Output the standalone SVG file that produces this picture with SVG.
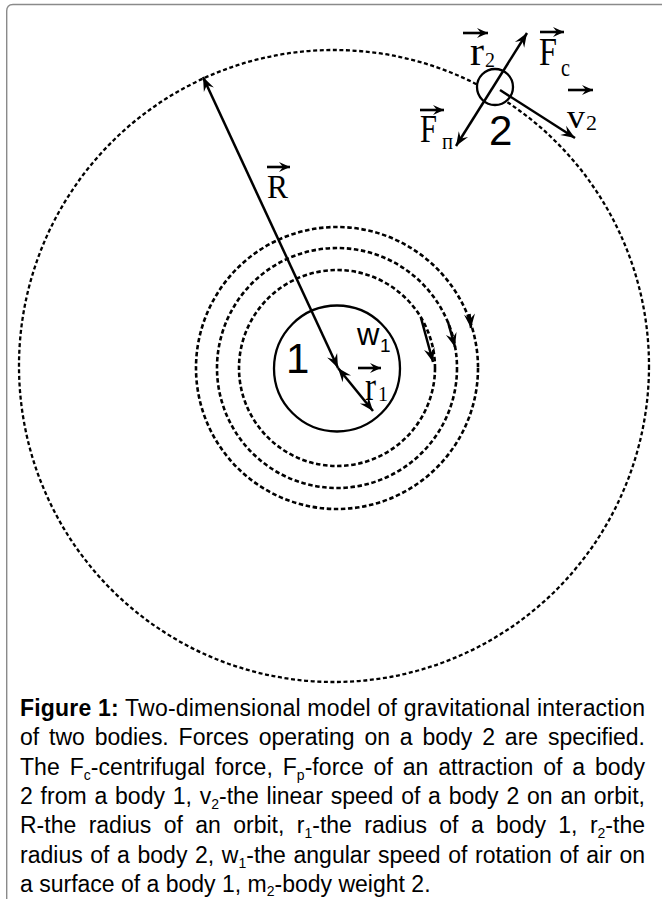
<svg xmlns="http://www.w3.org/2000/svg" width="662" height="899" viewBox="0 0 662 899">
<style>
.frame{fill:none;stroke:#8a8a8a;stroke-width:1.4}
.dash{fill:none;stroke:#000;stroke-width:2.3;stroke-dasharray:4 2.6}
.ring{fill:none;stroke:#000;stroke-width:2.6;stroke-dasharray:4.5 2.6}
.body{fill:#fff;stroke:#000;stroke-width:2.3}
.arr{fill:none;stroke:#000;stroke-width:2.5}
.varr{fill:none;stroke:#000;stroke-width:2.6}
.ser{font-family:"Liberation Serif","Times New Roman",serif;fill:#000}
.san{font-family:"Liberation Sans",Arial,sans-serif;fill:#000}
.cap{font-family:"Liberation Sans",Arial,sans-serif;font-size:23px;fill:#000}
.sub{font-size:14px}
</style>
<defs>
<marker id="ah" viewBox="-15 -8 17 16" refX="0" refY="0" markerWidth="17" markerHeight="16" markerUnits="userSpaceOnUse" orient="auto-start-reverse">
<path d="M0,0 L-14,-5.5 L-9,0 L-14,5.5 Z" fill="#000"/>
</marker>
<marker id="ahs" viewBox="-12 -7 14 14" refX="0" refY="0" markerWidth="14" markerHeight="14" markerUnits="userSpaceOnUse" orient="auto">
<path d="M0,0 L-11,-5 L-7,0 L-11,5 Z" fill="#000"/>
</marker>
</defs>
<rect width="662" height="899" fill="#fff"/>
<path class="frame" d="M6.7,899 V11 Q6.7,4.5 13,4.5 H662"/>

<g id="orbits">
<ellipse class="dash" cx="334" cy="366" rx="315" ry="316"/>
<circle class="ring" cx="337" cy="368" r="98"/>
<circle class="ring" cx="337" cy="368" r="120"/>
<circle class="ring" cx="337" cy="368" r="141"/>
</g>

<g id="body1">
<circle class="body" cx="337" cy="368.5" r="63"/>
<text class="san" x="286" y="373" font-size="42">1</text>
</g>

<g id="body2">
<circle class="body" cx="495" cy="87" r="18"/>
<text class="san" x="489" y="145" font-size="42">2</text>
</g>

<g id="connectors">
<line class="arr" x1="338" y1="368" x2="203" y2="77" marker-start="url(#ah)" marker-end="url(#ah)"/>
<line class="arr" x1="338" y1="368" x2="373" y2="411" marker-start="url(#ah)" marker-end="url(#ah)"/>
<line class="arr" x1="456" y1="146" x2="527" y2="33" marker-start="url(#ah)" marker-end="url(#ah)"/>
<line class="arr" x1="500" y1="90" x2="575" y2="138" marker-end="url(#ah)"/>
<line class="arr" x1="421" y1="318" x2="433" y2="362" marker-end="url(#ah)"/>
<line class="arr" x1="448" y1="322" x2="455" y2="347" marker-end="url(#ah)"/>
<line class="arr" x1="469.5" y1="314" x2="471" y2="328" marker-end="url(#ah)"/>
</g>

<g id="labels">
<line class="varr" x1="463" y1="33" x2="488" y2="33" marker-end="url(#ahs)"/>
<text class="ser" x="470" y="65" font-size="40" textLength="14" lengthAdjust="spacingAndGlyphs">r</text>
<text class="ser" x="485" y="67" font-size="20">2</text>

<line class="varr" x1="540" y1="32" x2="564" y2="32" marker-end="url(#ahs)"/>
<text class="ser" x="539" y="65" font-size="40" textLength="18" lengthAdjust="spacingAndGlyphs">F</text>
<text class="ser" x="561" y="76" font-size="26" textLength="9" lengthAdjust="spacingAndGlyphs">c</text>

<line class="varr" x1="420" y1="110" x2="444" y2="110" marker-end="url(#ahs)"/>
<text class="ser" x="420" y="142" font-size="40" textLength="17" lengthAdjust="spacingAndGlyphs">F</text>
<text class="ser" x="442" y="149" font-size="24" textLength="11" lengthAdjust="spacingAndGlyphs">п</text>

<line class="varr" x1="568" y1="90" x2="593" y2="90" marker-end="url(#ahs)"/>
<text class="ser" x="567" y="128" font-size="34" textLength="18" lengthAdjust="spacingAndGlyphs">v</text>
<text class="ser" x="586" y="130" font-size="22">2</text>

<line class="varr" x1="267" y1="167" x2="290" y2="167" marker-end="url(#ahs)"/>
<text class="ser" x="267" y="198" font-size="34" textLength="21" lengthAdjust="spacingAndGlyphs">R</text>

<line class="varr" x1="358" y1="368" x2="381" y2="368" marker-end="url(#ahs)"/>
<text class="ser" x="365" y="400" font-size="40" textLength="11" lengthAdjust="spacingAndGlyphs">r</text>
<text class="ser" x="378" y="401" font-size="20">1</text>

<text class="san" x="357" y="345" font-size="31">w</text>
<text class="san" x="380" y="352" font-size="19">1</text>
</g>

<g id="caption">
<text class="cap" x="20" y="716" textLength="625" lengthAdjust="spacing"><tspan font-weight="bold">Figure 1:</tspan> Two-dimensional model of gravitational interaction</text>
<text class="cap" x="20" y="745.3" textLength="625" lengthAdjust="spacing" word-spacing="3.5">of two bodies. Forces operating on a body 2 are specified.</text>
<text class="cap" x="20" y="774.6" textLength="625" lengthAdjust="spacing" word-spacing="3.4">The F<tspan class="sub" dy="5">c</tspan><tspan dy="-5">-centrifugal force, F</tspan><tspan class="sub" dy="5">p</tspan><tspan dy="-5">-force of an attraction of a body</tspan></text>
<text class="cap" x="20" y="803.9" textLength="625" lengthAdjust="spacing" word-spacing="1.4">2 from a body 1, v<tspan class="sub" dy="5">2</tspan><tspan dy="-5">-the linear speed of a body 2 on an orbit,</tspan></text>
<text class="cap" x="20" y="833.2" textLength="625" lengthAdjust="spacing" word-spacing="6">R-the radius of an orbit, r<tspan class="sub" dy="5">1</tspan><tspan dy="-5">-the radius of a body 1, r</tspan><tspan class="sub" dy="5">2</tspan><tspan dy="-5">-the</tspan></text>
<text class="cap" x="20" y="862.5" textLength="625" lengthAdjust="spacing" word-spacing="1.2">radius of a body 2, w<tspan class="sub" dy="5">1</tspan><tspan dy="-5">-the angular speed of rotation of air on</tspan></text>
<text class="cap" x="20" y="891.5">a surface of a body 1, m<tspan class="sub" dy="4">2</tspan><tspan dy="-4">-body weight 2.</tspan></text>
</g>
</svg>
